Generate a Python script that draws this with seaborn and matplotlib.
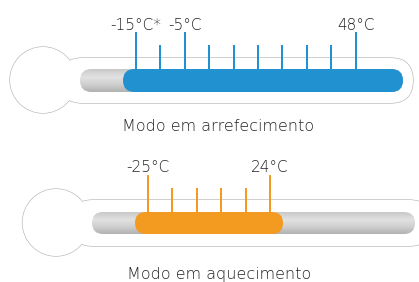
import numpy as np
import pandas as pd
import matplotlib
matplotlib.use("Agg")
import matplotlib.pyplot as plt
from matplotlib.patches import Circle, FancyBboxPatch
from matplotlib.colors import LinearSegmentedColormap
import seaborn as sns

# tick labels along each thermometer (empty = minor tick)
cool_labels = ["-15°C*", "", "-5°C", "", "", "", "", "", "", "48°C"]
heat_labels = ["-25°C", "", "", "", "", "24°C"]
titles = ["Modo em arrefecimento", "Modo em aquecimento"]

BLUE = "#2191d0"
ORANGE = "#f39a20"
OUTLINE = "#b5b5b5"
TEXT = "#222222"
W, H = 419, 282
STEP = 24.4          # px between tick marks
TALL, SHORT = 37, 24
FS_LABEL = 11
FS_TITLE = 11.5

sns.set_theme(style="white")
plt.rcParams["font.family"] = ["DejaVu Sans"]

fig = plt.figure(figsize=(W / 100, H / 100), dpi=100)
bg = fig.add_axes([0, 0, 1, 1])
gray_cmap = LinearSegmentedColormap.from_list(
    "tube", [(0, "#c9c9c9"), (0.35, "#e2e2e2"), (0.7, "#cdcdcd"), (1, "#b2b2b2")])


def rbox(x0, y0, x1, y1, **kw):
    r = (y1 - y0) / 2
    return FancyBboxPatch((x0, y0), x1 - x0, y1 - y0,
                          boxstyle=f"round,pad=0,rounding_size={r}", **kw)


def draw_body(bulb, tube, bar, fill, color):
    cx, cy, r = bulb
    # outlines first, then white fills on top to merge bulb and tube
    bg.add_patch(Circle((cx, cy), r, fc="white", ec=OUTLINE, lw=0.9, zorder=1))
    bg.add_patch(rbox(*tube, fc="white", ec=OUTLINE, lw=0.9, zorder=1))
    bg.add_patch(Circle((cx, cy), r, fc="white", ec="none", zorder=2))
    bg.add_patch(rbox(*tube, fc="white", ec="none", zorder=2))
    clip = rbox(*bar, fc="none", ec="none", zorder=3)
    bg.add_patch(clip)
    img = bg.imshow(np.linspace(0, 1, 50).reshape(-1, 1), cmap=gray_cmap,
                    extent=(bar[0], bar[2], bar[3], bar[1]), aspect="auto", zorder=3)
    img.set_clip_path(clip)
    bg.add_patch(rbox(*fill, fc=color, ec="none", zorder=4))


def draw_ticks(labels, color, x0, base):
    ax = fig.add_axes([0, 0, 1, 1])
    ax.patch.set_alpha(0)
    df = pd.DataFrame({"pos": np.arange(len(labels)),
                       "height": [TALL if lab else SHORT for lab in labels]})
    sns.barplot(data=df, x="pos", y="height", native_scale=True, width=0.08,
                color=color, saturation=1, linewidth=0, errorbar=None, ax=ax)
    for i, lab in enumerate(labels):
        if lab:
            ax.text(i, TALL + 2.5, lab, ha="center", va="baseline",
                    fontsize=FS_LABEL, color=TEXT, fontweight="light")
    ax.set_xlim(-x0 / STEP, (W - x0) / STEP)
    ax.set_ylim(base - H, base)
    ax.axis("off")


# cooling
draw_body((43, 80, 33), (60, 58, 413, 103), (80, 69, 403, 92), (123, 69, 403, 92), BLUE)
# heating
draw_body((56, 222.5, 33.5), (70, 200, 432, 246), (92, 212, 415, 234), (135, 212, 283, 234), ORANGE)

bg.text(218, 131, titles[0], ha="center", va="baseline", fontsize=FS_TITLE, color=TEXT, fontweight="light")
bg.text(219, 279, titles[1], ha="center", va="baseline", fontsize=FS_TITLE, color=TEXT, fontweight="light")
bg.set_xlim(0, W)
bg.set_ylim(H, 0)
bg.axis("off")

draw_ticks(cool_labels, BLUE, 136, 69)
draw_ticks(heat_labels, ORANGE, 148, 212)

fig.savefig("out.png", dpi=100)
